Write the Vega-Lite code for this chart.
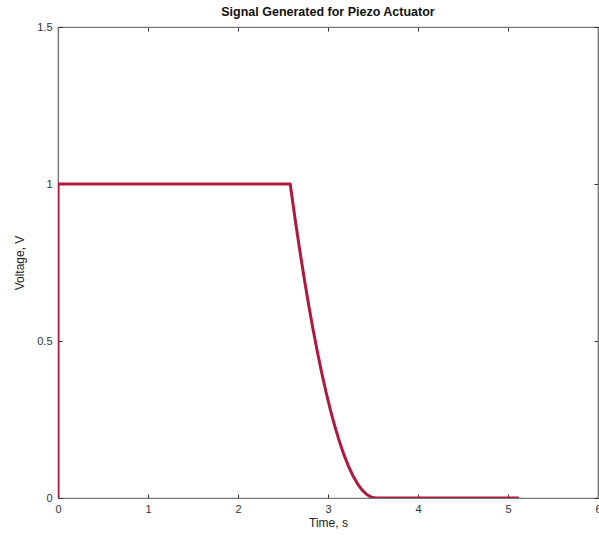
{
  "$schema": "https://vega.github.io/schema/vega-lite/v6.json",
  "autosize": "none",
  "width": 540,
  "height": 471,
  "padding": {"left": 58, "top": 27, "right": 1, "bottom": 38},
  "background": "white",
  "title": {"text": "Signal Generated for Piezo Actuator", "font": "Liberation Sans", "fontSize": 12.5, "fontWeight": "bold", "color": "#111", "offset": 3, "anchor": "middle"},
  "config": {"view": {"stroke": "#777", "strokeWidth": 1.2}},
  "data": {"values": [
    {"t": 0, "v": 0},
    {"t": 0, "v": 1},
    {"t": 2.58, "v": 1},
    {"t": 2.63, "v": 0.8975},
    {"t": 2.68, "v": 0.8006},
    {"t": 2.73, "v": 0.7091},
    {"t": 2.78, "v": 0.6233},
    {"t": 2.83, "v": 0.5429},
    {"t": 2.88, "v": 0.4681},
    {"t": 2.93, "v": 0.3989},
    {"t": 2.98, "v": 0.3352},
    {"t": 3.03, "v": 0.277},
    {"t": 3.08, "v": 0.2244},
    {"t": 3.13, "v": 0.1773},
    {"t": 3.18, "v": 0.1357},
    {"t": 3.23, "v": 0.0997},
    {"t": 3.28, "v": 0.0693},
    {"t": 3.33, "v": 0.0443},
    {"t": 3.38, "v": 0.0249},
    {"t": 3.43, "v": 0.0111},
    {"t": 3.48, "v": 0.0028},
    {"t": 3.53, "v": 0},
    {"t": 5.12, "v": 0}
  ]},
  "layer": [
    {
      "mark": {"type": "line", "color": "#b0193f", "strokeWidth": 3, "strokeJoin": "round", "strokeCap": "butt", "clip": true},
      "encoding": {
        "x": {"field": "t", "type": "quantitative", "sort": null,
          "scale": {"domain": [0, 6], "nice": false, "zero": false},
          "axis": {"title": "Time, s", "values": [0,1,2,3,4,5,6], "format": "d", "grid": false, "domain": true, "domainColor": "#777", "domainWidth": 1.2, "tickColor": "#333", "tickSize": -4, "tickWidth": 1, "labelPadding": 9, "labelFont": "Liberation Sans", "labelFontSize": 11, "labelColor": "#333", "titleFont": "Liberation Sans", "titleFontSize": 12, "titleFontWeight": "normal", "titleColor": "#222", "titlePadding": 3, "labelFlush": false}},
        "y": {"field": "v", "type": "quantitative",
          "scale": {"domain": [0, 1.5], "nice": false},
          "axis": {"title": "Voltage, V", "values": [0, 0.5, 1, 1.5], "format": "~g", "grid": false, "domain": true, "domainColor": "#777", "domainWidth": 1.2, "tickColor": "#333", "tickSize": -4, "tickWidth": 1, "labelPadding": 10, "labelFont": "Liberation Sans", "labelFontSize": 11, "labelColor": "#333", "titleFont": "Liberation Sans", "titleFontSize": 12, "titleFontWeight": "normal", "titleColor": "#222", "titlePadding": 10, "labelFlush": false}}
      }
    },
    {
      "mark": {"type": "point", "opacity": 0},
      "encoding": {
        "x": {"field": "t", "type": "quantitative",
          "axis": {"orient": "top", "title": null, "labels": false, "values": [0,1,2,3,4,5,6], "grid": false, "domainColor": "#777", "domainWidth": 1.2, "tickColor": "#333", "tickSize": -4}},
        "y": {"field": "v", "type": "quantitative",
          "axis": {"orient": "right", "title": null, "labels": false, "values": [0, 0.5, 1, 1.5], "grid": false, "domainColor": "#777", "domainWidth": 1.2, "tickColor": "#333", "tickSize": -4}}
      }
    }
  ],
  "resolve": {"axis": {"x": "independent", "y": "independent"}}
}
